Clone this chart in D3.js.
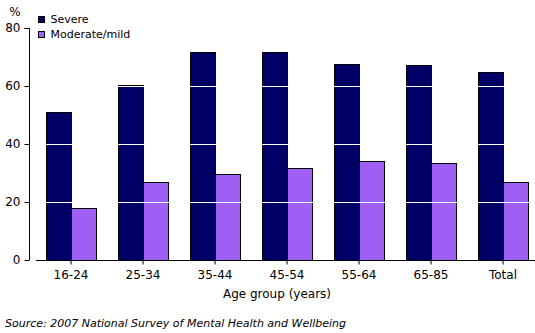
<!DOCTYPE html>
<html><head><meta charset="utf-8">
<script src="https://cdn.jsdelivr.net/npm/d3@7"></script>
<style>body{margin:0;background:#fff}svg{display:block}text{font-family:"DejaVu Sans",sans-serif;fill:#000}</style>
</head><body><svg id="c" width="535" height="333"></svg>
<script>
const categories = ["16-24","25-34","35-44","45-54","55-64","65-85","Total"];
const seriesNames = ["Severe","Moderate/mild"];
const severe = [51.0, 60.4, 71.6, 71.6, 67.5, 67.1, 65.0];
const moderate = [17.8, 26.8, 29.5, 31.6, 34.2, 33.3, 27.0];
const yTicks = [0, 20, 40, 60, 80];
const colors = ["#000066", "#9f5ff5"];

const svg = d3.select("#c");
const y = d3.scaleLinear().domain([0, 80]).range([260, 28]);
const x = d3.scaleBand().domain(categories).range([35, 539]).paddingInner(22/72).paddingOuter(11/72);
const x1 = d3.scaleBand().domain(seriesNames).range([0, x.bandwidth()]);

const data = categories.map((c, i) => ({c, vals: [severe[i], moderate[i]]}));
const g = svg.append("g");
g.selectAll("g.grp").data(data).join("g").attr("class","grp")
  .attr("transform", d => `translate(${x(d.c)},0)`)
  .selectAll("rect").data(d => d.vals.map((v, k) => ({v, k})))
  .join("rect")
  .attr("x", d => x1(seriesNames[d.k]) + 0.5)
  .attr("y", d => Math.round(y(d.v)) + 0.5)
  .attr("width", x1.bandwidth())
  .attr("height", d => 260 - Math.round(y(d.v)))
  .attr("fill", d => colors[d.k])
  .attr("stroke", "#000").attr("stroke-width", 1);

// white gridlines over bars
svg.selectAll("line.grid").data(yTicks.filter(t => t > 0 && t < 80)).join("line")
  .attr("x1", 36).attr("x2", 535)
  .attr("y1", d => Math.round(y(d)) + 0.5).attr("y2", d => Math.round(y(d)) + 0.5)
  .attr("stroke", "#fff").attr("stroke-width", 1);

// y axis
const yAxis = d3.axisLeft(y).tickValues(yTicks).tickSize(5).tickPadding(4);
const ya = svg.append("g").attr("transform", "translate(29.5,0)").call(yAxis);
ya.select(".domain").attr("d", `M-5,${y(80)+0.5}H0V${y(0)}`).attr("stroke","#000");
ya.selectAll("text").style("font-size","12px").attr("fill","#000");
ya.selectAll(".tick line").attr("stroke","#000");

// x axis
const xAxis = d3.axisBottom(x).tickSize(4).tickPadding(4);
const xa = svg.append("g").attr("transform", "translate(0,260.5)").call(xAxis);
xa.select(".domain").attr("d", "M36,0H535").attr("stroke","#000");
xa.selectAll(".tick line").attr("stroke","#000");
xa.selectAll("text").style("font-size","12px").attr("fill","#000").attr("dy","0.9em");

svg.append("text").attr("x", 15).attr("y", 16).attr("text-anchor","middle").style("font-size","12px").text("%");

svg.append("text").attr("x", 277).attr("y", 298).attr("text-anchor","middle").style("font-size","12px").text("Age group (years)");
svg.append("text").attr("x", 5).attr("y", 327).style("font-size","11px").style("font-style","italic").text("Source: 2007 National Survey of Mental Health and Wellbeing");

// legend
const leg = svg.append("g").selectAll("g").data(seriesNames).join("g")
  .attr("transform", (d, i) => `translate(38.5,${16.5 + i*15})`);
leg.append("rect").attr("width", 6).attr("height", 6).attr("fill", (d, i) => colors[i]).attr("stroke","#000");
leg.append("text").attr("x", 12).attr("y", 3).attr("dy","0.35em").style("font-size","11px").text(d => d);
</script></body></html>
